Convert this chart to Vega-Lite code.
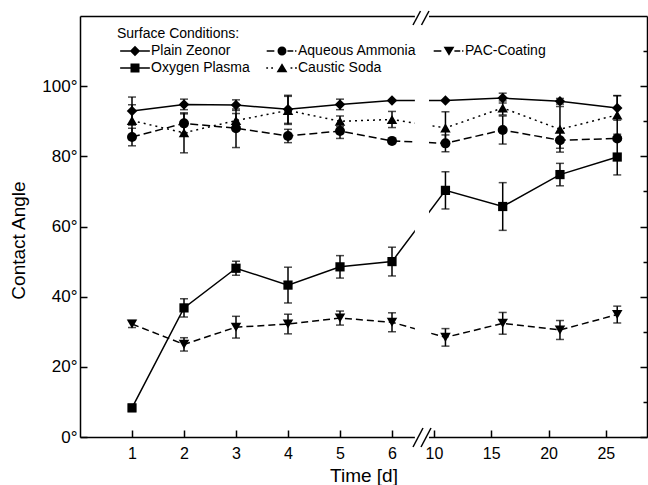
{
  "$schema": "https://vega.github.io/schema/vega-lite/v6.json",
  "width": 567,
  "height": 421,
  "autosize": {"type": "none"},
  "padding": {"left": 80, "top": 16, "right": 1, "bottom": 48},
  "background": "white",
  "config": {
    "font": "Liberation Sans",
    "view": {"stroke": null},
    "axis": {
      "grid": false,
      "labelColor": "black",
      "titleColor": "black",
      "domainColor": "black",
      "tickColor": "black",
      "labelFont": "Liberation Sans",
      "titleFont": "Liberation Sans",
      "titleFontWeight": "normal",
      "domainWidth": 1.5,
      "tickWidth": 1.5
    }
  },
  "datasets": {
    "d": [
      {"s": "Plain Zeonor", "d": 1, "v": 92.9, "e": 4},
      {"s": "Plain Zeonor", "d": 2, "v": 94.8, "e": 1.5},
      {"s": "Plain Zeonor", "d": 3, "v": 94.6, "e": 1.5},
      {"s": "Plain Zeonor", "d": 4, "v": 93.4, "e": 4},
      {"s": "Plain Zeonor", "d": 5, "v": 94.8, "e": 1.5},
      {"s": "Plain Zeonor", "d": 6, "v": 95.9, "e": 0},
      {"s": "Plain Zeonor", "d": 11, "v": 95.9, "e": 0},
      {"s": "Plain Zeonor", "d": 16, "v": 96.6, "e": 1.4},
      {"s": "Plain Zeonor", "d": 21, "v": 95.7, "e": 0.8},
      {"s": "Plain Zeonor", "d": 26, "v": 93.8, "e": 3.5},
      {"s": "Aqueous Ammonia", "d": 1, "v": 85.5, "e": 2.5},
      {"s": "Aqueous Ammonia", "d": 2, "v": 89.4, "e": 2.7},
      {"s": "Aqueous Ammonia", "d": 3, "v": 88.0, "e": 5.5},
      {"s": "Aqueous Ammonia", "d": 4, "v": 85.8, "e": 1.9},
      {"s": "Aqueous Ammonia", "d": 5, "v": 87.2, "e": 2.1},
      {"s": "Aqueous Ammonia", "d": 6, "v": 84.4, "e": 0},
      {"s": "Aqueous Ammonia", "d": 11, "v": 83.7, "e": 2.4},
      {"s": "Aqueous Ammonia", "d": 16, "v": 87.5, "e": 4},
      {"s": "Aqueous Ammonia", "d": 21, "v": 84.6, "e": 2.3},
      {"s": "Aqueous Ammonia", "d": 26, "v": 85.1, "e": 0},
      {"s": "Caustic Soda", "d": 1, "v": 90.2, "e": 4.5},
      {"s": "Caustic Soda", "d": 2, "v": 86.7, "e": 5.7},
      {"s": "Caustic Soda", "d": 3, "v": 90.2, "e": 2},
      {"s": "Caustic Soda", "d": 4, "v": 93.1, "e": 4},
      {"s": "Caustic Soda", "d": 5, "v": 90.0, "e": 1.5},
      {"s": "Caustic Soda", "d": 6, "v": 90.5, "e": 2.3},
      {"s": "Caustic Soda", "d": 11, "v": 88.1, "e": 4.6},
      {"s": "Caustic Soda", "d": 16, "v": 93.8, "e": 2},
      {"s": "Caustic Soda", "d": 21, "v": 87.7, "e": 6.5},
      {"s": "Caustic Soda", "d": 26, "v": 91.8, "e": 5.5},
      {"s": "Oxygen Plasma", "d": 1, "v": 8.3, "e": 1},
      {"s": "Oxygen Plasma", "d": 2, "v": 36.8, "e": 2.6},
      {"s": "Oxygen Plasma", "d": 3, "v": 48.1, "e": 2},
      {"s": "Oxygen Plasma", "d": 4, "v": 43.3, "e": 5.1},
      {"s": "Oxygen Plasma", "d": 5, "v": 48.5, "e": 3.2},
      {"s": "Oxygen Plasma", "d": 6, "v": 50.0, "e": 4.1},
      {"s": "Oxygen Plasma", "d": 11, "v": 70.3, "e": 5.3},
      {"s": "Oxygen Plasma", "d": 16, "v": 65.7, "e": 6.8},
      {"s": "Oxygen Plasma", "d": 21, "v": 74.8, "e": 3.2},
      {"s": "Oxygen Plasma", "d": 26, "v": 79.8, "e": 5.1},
      {"s": "PAC-Coating", "d": 1, "v": 32.2, "e": 1},
      {"s": "PAC-Coating", "d": 2, "v": 26.4, "e": 1.9},
      {"s": "PAC-Coating", "d": 3, "v": 31.3, "e": 3.1},
      {"s": "PAC-Coating", "d": 4, "v": 32.2, "e": 2.8},
      {"s": "PAC-Coating", "d": 5, "v": 33.9, "e": 2},
      {"s": "PAC-Coating", "d": 6, "v": 32.7, "e": 2.7},
      {"s": "PAC-Coating", "d": 11, "v": 28.4, "e": 2.5},
      {"s": "PAC-Coating", "d": 16, "v": 32.4, "e": 3.1},
      {"s": "PAC-Coating", "d": 21, "v": 30.5, "e": 2.7},
      {"s": "PAC-Coating", "d": 26, "v": 34.9, "e": 2.4}
    ]
  },
  "data": {"name": "d"},
  "layer": [
    {
      "layer": [
        {
          "transform": [{"filter": "datum.e > 0"}],
          "mark": {"type": "errorbar", "color": "black", "thickness": 1.5, "ticks": {"size": 8, "color": "black"}},
          "encoding": {
            "x": {
              "field": "d", "type": "quantitative",
              "scale": {"type": "linear", "domain": [0, 6.5, 9.476, 28.6], "range": [0, 338, 348, 567], "nice": false, "zero": false},
              "axis": {
                "orient": "bottom",
                "values": [1, 2, 3, 4, 5, 6, 10, 15, 20, 25],
                "tickSize": -7,
                "labelPadding": 15,
                "labelFontSize": 16,
                "labelBaseline": "top",
                "title": "Time [d]",
                "titleFontSize": 19,
                "titleBaseline": "alphabetic",
                "titleY": 44
              }
            },
            "y": {
              "field": "v", "type": "quantitative",
              "scale": {"domain": [0, 120], "nice": false, "zero": true},
              "axis": {
                "orient": "left",
                "values": [0, 10, 20, 30, 40, 50, 60, 70, 80, 90, 100, 110],
                "labelExpr": "datum.value % 20 == 0 ? datum.value + '°' : ''",
                "tickSize": {"condition": {"test": "datum.value % 20 == 0", "value": -7}, "value": -4},
                "labelPadding": 10,
                "labelFontSize": 17,
                "title": "Contact Angle",
                "titleFontSize": 19,
                "titleBaseline": "alphabetic",
                "titleX": -56,
                "titleY": 224
              }
            },
            "yError": {"field": "e"}
          }
        },
        {
          "transform": [{"filter": "datum.s == 'Plain Zeonor'"}],
          "mark": {"type": "line", "color": "black", "strokeWidth": 1.5, "point": {"filled": true, "shape": "diamond", "size": 110, "color": "black", "opacity": 1}},
          "encoding": {"x": {"field": "d", "type": "quantitative"}, "y": {"field": "v", "type": "quantitative"}}
        },
        {
          "transform": [{"filter": "datum.s == 'Oxygen Plasma'"}],
          "mark": {"type": "line", "color": "black", "strokeWidth": 1.5, "point": {"filled": true, "shape": "square", "size": 85, "color": "black", "opacity": 1}},
          "encoding": {"x": {"field": "d", "type": "quantitative"}, "y": {"field": "v", "type": "quantitative"}}
        },
        {
          "transform": [{"filter": "datum.s == 'Aqueous Ammonia'"}],
          "mark": {"type": "line", "color": "black", "strokeWidth": 1.5, "strokeDash": [8, 4], "point": {"filled": true, "shape": "circle", "size": 100, "color": "black", "opacity": 1}},
          "encoding": {"x": {"field": "d", "type": "quantitative"}, "y": {"field": "v", "type": "quantitative"}}
        },
        {
          "transform": [{"filter": "datum.s == 'Caustic Soda'"}],
          "mark": {"type": "line", "color": "black", "strokeWidth": 1.5, "strokeDash": [2, 4], "point": {"filled": true, "shape": "triangle-up", "size": 110, "color": "black", "opacity": 1}},
          "encoding": {"x": {"field": "d", "type": "quantitative"}, "y": {"field": "v", "type": "quantitative"}}
        },
        {
          "transform": [{"filter": "datum.s == 'PAC-Coating'"}],
          "mark": {"type": "line", "color": "black", "strokeWidth": 1.5, "strokeDash": [7, 4], "point": {"filled": true, "shape": "triangle-down", "size": 110, "color": "black", "opacity": 1}},
          "encoding": {"x": {"field": "d", "type": "quantitative"}, "y": {"field": "v", "type": "quantitative"}}
        },
        {
          "mark": {"type": "point", "opacity": 0, "filled": true, "color": "black"},
          "encoding": {
            "x": {"field": "d", "type": "quantitative"},
            "y": {"field": "v", "type": "quantitative"},
            "shape": {
              "field": "s", "type": "nominal",
              "scale": {
                "domain": ["Plain Zeonor", "Aqueous Ammonia", "PAC-Coating", "Oxygen Plasma", "Caustic Soda"],
                "range": [
                  "M-3.3,-0.16H3.3V0.16H-3.3Z M0,-1.15L1.15,0L0,1.15L-1.15,0Z",
                  "M-3.4,-0.16H-1.7V0.16H-3.4Z M1.2,-0.16H2.5V0.16H1.2Z M2.9,-0.16H3.2V0.16H2.9Z M1,0A1,1,0,1,1,-1,0A1,1,0,1,1,1,0Z",
                  "M-3.4,-0.16H-1.7V0.16H-3.4Z M1.2,-0.16H2.5V0.16H1.2Z M2.9,-0.16H3.2V0.16H2.9Z M0,1.05L-1.2,-0.95H1.2Z",
                  "M-3.3,-0.16H3.3V0.16H-3.3Z M-1,-1H1V1H-1Z",
                  "M-3.5,-0.16H-3.1V0.16H-3.5Z M-2.4,-0.16H-2V0.16H-2.4Z M1.9,-0.16H2.3V0.16H1.9Z M2.9,-0.16H3.3V0.16H2.9Z M0,-1.05L1.2,0.95H-1.2Z"
                ]
              },
              "legend": {
                "title": "Surface Conditions:",
                "orient": "none",
                "direction": "horizontal",
                "legendX": 37,
                "legendY": 11,
                "padding": 0,
                "columns": 3,
                "columnPadding": 14,
                "rowPadding": 3,
                "titlePadding": 3,
                "titleFontSize": 14,
                "titleFontWeight": "normal",
                "titleColor": "black",
                "titleFont": "Liberation Sans",
                "labelFontSize": 14,
                "labelColor": "black",
                "labelFont": "Liberation Sans",
                "labelLimit": 300,
                "symbolSize": 81,
                "symbolOffset": 11,
                "labelOffset": 9,
                "symbolStrokeWidth": 0,
                "symbolFillColor": "black",
                "symbolOpacity": 1,
                "gridAlign": "each",
                "encode": {
                  "symbols": {
                    "fill": {"value": "black"},
                    "opacity": {"value": 1}
                  }
                }
              }
            }
          }
        },
        {
          "data": {"values": [{}]},
          "mark": {"type": "rect", "color": "white", "clip": false},
          "encoding": {"x": {"datum": 6.44}, "x2": {"datum": 9.563}, "y": {"datum": -2}, "y2": {"datum": 122}}
        },
        {
          "data": {"values": [{}]},
          "mark": {"type": "rule", "color": "black", "strokeWidth": 1.5, "clip": false},
          "encoding": {"x": {"datum": 6.404}, "x2": {"datum": 7.988}, "y": {"datum": -2.85}, "y2": {"datum": 2.57}}
        },
        {
          "data": {"values": [{}]},
          "mark": {"type": "rule", "color": "black", "strokeWidth": 1.5, "clip": false},
          "encoding": {"x": {"datum": 7.393}, "x2": {"datum": 9.738}, "y": {"datum": -2.85}, "y2": {"datum": 2.57}}
        },
        {
          "data": {"values": [{}]},
          "mark": {"type": "rule", "color": "black", "strokeWidth": 1.5, "clip": false},
          "encoding": {"x": {"datum": 6.404}, "x2": {"datum": 7.244}, "y": {"datum": 117.43}, "y2": {"datum": 121.43}}
        },
        {
          "data": {"values": [{}]},
          "mark": {"type": "rule", "color": "black", "strokeWidth": 1.5, "clip": false},
          "encoding": {"x": {"datum": 7.542}, "x2": {"datum": 9.563}, "y": {"datum": 117.43}, "y2": {"datum": 121.43}}
        }
      ]
    },
    {
      "data": {"values": [{}]},
      "mark": {"type": "point", "opacity": 0},
      "encoding": {
        "x": {"datum": 1, "type": "quantitative", "axis": {"orient": "top", "ticks": false, "labels": false, "title": null}},
        "y": {
          "datum": 50, "type": "quantitative",
          "axis": {
            "orient": "right", "labels": false, "title": null,
            "values": [0, 10, 20, 30, 40, 50, 60, 70, 80, 90, 100, 110],
            "tickSize": {"condition": {"test": "datum.value % 20 == 0", "value": -7}, "value": -4}
          }
        }
      }
    }
  ],
  "resolve": {"axis": {"x": "independent", "y": "independent"}}
}
